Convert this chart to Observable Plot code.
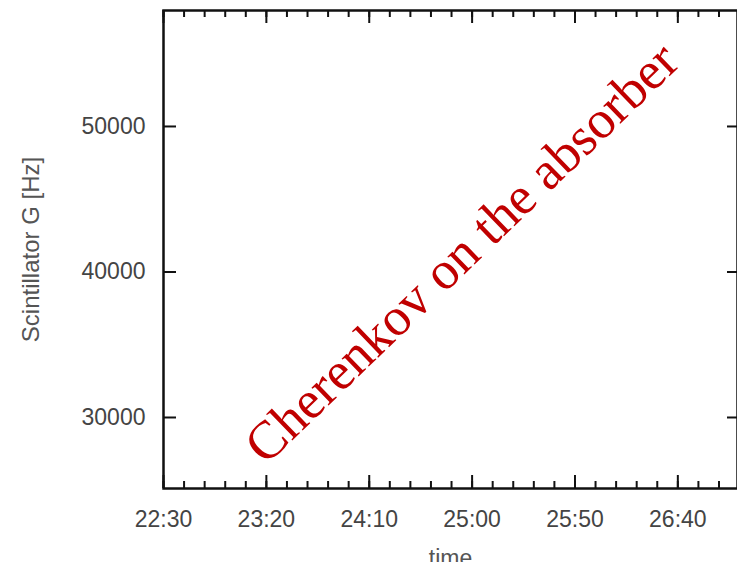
<!DOCTYPE html>
<html>
<head>
<meta charset="utf-8">
<script src="https://cdn.jsdelivr.net/npm/d3@7"></script>
<script src="https://cdn.jsdelivr.net/npm/@observablehq/plot@0.6"></script>
<style>
  html, body { margin: 0; padding: 0; background: #fff; overflow: hidden; }
  #chart svg { display: block; }
</style>
</head>
<body>
<div id="chart"></div>
<script>
// Axis ticks (time of day past midnight runs on as 24:xx, 25:xx ...)
const xTickLabels = ["22:30", "23:20", "24:10", "25:00", "25:50", "26:40"];
const xRange = ["22:30", "27:09"];
const yTickValues = [30000, 40000, 50000];
const yRange = [25120, 57970];
const minorStep = 10; // minutes between small ticks

// Annotation written across the empty panel
const noteText = ["Cherenkov on the absorber"];
const noteTime = ["24:55"];
const noteValue = [41300];

const xTitle = "time";
const yTitle = "Scintillator G [Hz]";

const toMinutes = s => { const [h, m] = s.split(":").map(Number); return h * 60 + m; };
const fmtTime = v => `${Math.floor(v / 60)}:${String(Math.round(v % 60)).padStart(2, "0")}`;

const xDomain = xRange.map(toMinutes);
const majorTicks = xTickLabels.map(toMinutes);
const minorTicks = d3.range(xDomain[0], xDomain[1], minorStep);
const notes = noteText.map((t, i) => ({ text: t, time: toMinutes(noteTime[i]), value: noteValue[i] }));

const W = 737, H = 562;
const mL = 163, mR = 0, mT = 10, mB = 74;
const fw = W - mL - mR, fh = H - mT - mB;
const ink = "#111";
const labelInk = "#444";

const chart = Plot.plot({
  width: W,
  height: H,
  marginLeft: mL,
  marginRight: mR,
  marginTop: mT,
  marginBottom: mB,
  style: { fontFamily: "'Liberation Sans', Arial, sans-serif", fontSize: "23px", background: "#fff" },
  x: { type: "linear", domain: xDomain },
  y: { type: "linear", domain: yRange },
  marks: [
    // small ticks, bottom and top edges
    Plot.tickX(minorTicks, { x: d => d, insetTop: fh - 7, stroke: ink, strokeWidth: 2 }),
    Plot.tickX(minorTicks, { x: d => d, insetBottom: fh - 7, stroke: ink, strokeWidth: 2 }),
    // major ticks, bottom and top edges
    Plot.tickX(majorTicks, { x: d => d, insetTop: fh - 13, stroke: ink, strokeWidth: 2 }),
    Plot.tickX(majorTicks, { x: d => d, insetBottom: fh - 13, stroke: ink, strokeWidth: 2 }),
    // major ticks, left and right edges
    Plot.tickY(yTickValues, { y: d => d, insetRight: fw - 13, stroke: ink, strokeWidth: 2 }),
    Plot.tickY(yTickValues, { y: d => d, insetLeft: fw - 10, stroke: ink, strokeWidth: 2 }),
    Plot.frame({ stroke: ink, strokeWidth: 2.5 }),
    // tick labels
    Plot.axisX(majorTicks, { tickSize: 0, tickPadding: 22, tickFormat: fmtTime, label: null, fill: labelInk, fontSize: 23 }),
    Plot.axisY(yTickValues, { tickSize: 0, tickPadding: 18, tickFormat: d => String(d), label: null, fill: labelInk, fontSize: 23 }),
    // axis titles
    Plot.text([yTitle], { frameAnchor: "left", dx: -132, rotate: -90, text: d => d, textAnchor: "middle", lineAnchor: "middle", fill: "#555", fontSize: 24 }),
    Plot.text([xTitle], { frameAnchor: "bottom", dy: 77, text: d => d, textAnchor: "middle", lineAnchor: "bottom", fill: "#555", fontSize: 23 }),
    // red annotation
    Plot.text(notes, {
      x: "time", y: "value", text: "text",
      rotate: -44, textAnchor: "middle", lineAnchor: "middle",
      fontSize: 53.5, fontFamily: "'Liberation Serif', 'Times New Roman', serif",
      fill: "#c00000"
    })
  ]
});

document.getElementById("chart").appendChild(chart);
</script>
</body>
</html>
